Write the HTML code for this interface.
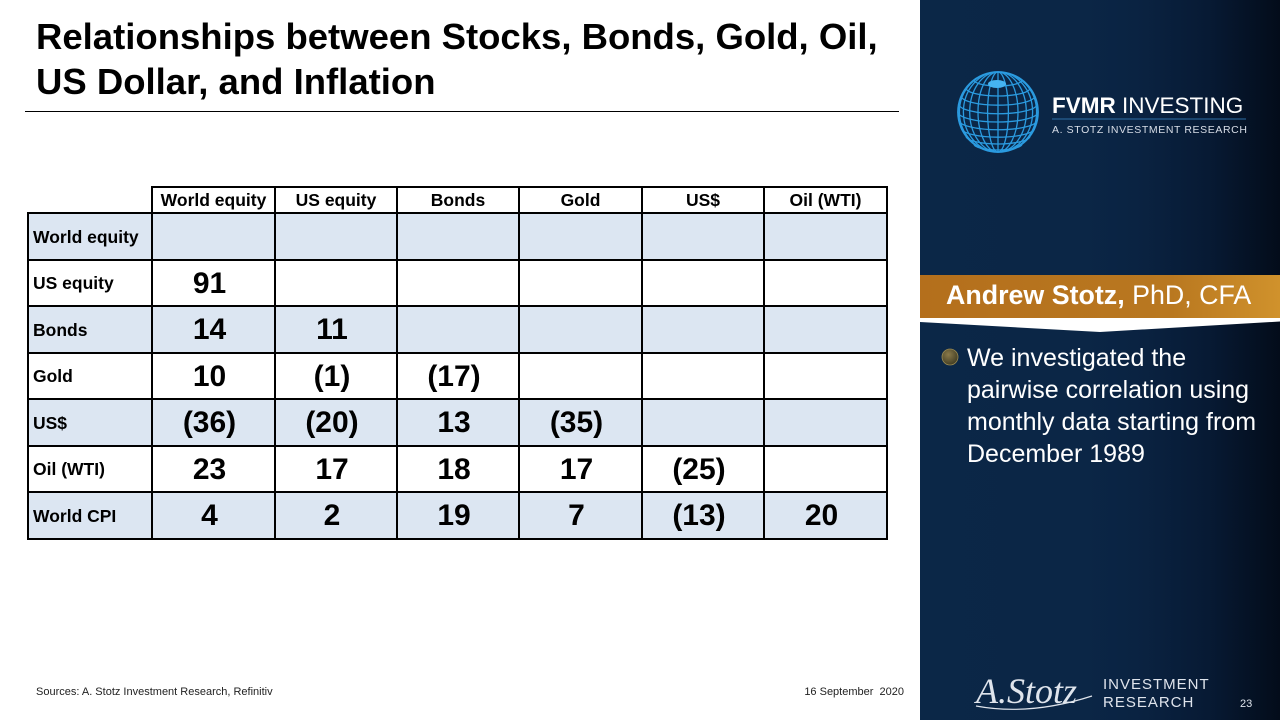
<!DOCTYPE html>
<html>
<head>
<meta charset="utf-8">
<style>
  html,body{margin:0;padding:0;}
  body{width:1280px;height:720px;position:relative;overflow:hidden;background:#fff;font-family:"Liberation Sans",Arial,sans-serif;}
  .abs{position:absolute;}
  .title{left:36px;top:14px;font-size:36.5px;font-weight:bold;line-height:45px;color:#000;white-space:nowrap;}
  .rule{left:25px;top:111px;width:874px;height:1px;background:#000;}
  .hl{position:absolute;height:2px;background:#000;}
  .vl{position:absolute;width:2px;background:#000;}
  .band{position:absolute;left:28px;width:860px;background:#dce6f2;}
  .cell{position:absolute;display:flex;align-items:center;justify-content:center;font-weight:bold;color:#000;white-space:nowrap;}
  .hd{font-size:17.5px;}
  .rl{font-size:17.5px;justify-content:flex-start;padding-left:5px;box-sizing:border-box;}
  .num{font-size:30px;}
  .panel{left:920px;top:0;width:360px;height:720px;background:linear-gradient(90deg,#0b2747 0%,#0b2646 45%,#0a2342 60%,#071a34 80%,#030c1a 100%);}
  .foot{font-size:11px;color:#222;top:686px;white-space:nowrap;}
</style>
</head>
<body>

<div class="abs title">Relationships between Stocks, Bonds, Gold, Oil,<br>US Dollar, and Inflation</div>
<div class="abs rule"></div>

<!-- table bands -->
<div class="band" style="top:213px;height:47px;"></div>
<div class="band" style="top:306px;height:47px;"></div>
<div class="band" style="top:399px;height:47px;"></div>
<div class="band" style="top:492px;height:47px;"></div>

<!-- horizontal lines -->
<div class="hl" style="left:151px;width:737px;top:186px;"></div>
<div class="hl" style="left:27px;width:861px;top:212px;"></div>
<div class="hl" style="left:27px;width:861px;top:259px;"></div>
<div class="hl" style="left:27px;width:861px;top:305px;"></div>
<div class="hl" style="left:27px;width:861px;top:352px;"></div>
<div class="hl" style="left:27px;width:861px;top:398px;"></div>
<div class="hl" style="left:27px;width:861px;top:445px;"></div>
<div class="hl" style="left:27px;width:861px;top:491px;"></div>
<div class="hl" style="left:27px;width:861px;top:538px;"></div>

<!-- vertical lines -->
<div class="vl" style="left:27px;top:212px;height:328px;"></div>
<div class="vl" style="left:151px;top:186px;height:354px;"></div>
<div class="vl" style="left:274px;top:186px;height:354px;"></div>
<div class="vl" style="left:396px;top:186px;height:354px;"></div>
<div class="vl" style="left:518px;top:186px;height:354px;"></div>
<div class="vl" style="left:641px;top:186px;height:354px;"></div>
<div class="vl" style="left:763px;top:186px;height:354px;"></div>
<div class="vl" style="left:886px;top:186px;height:354px;"></div>

<!-- header -->
<div class="cell hd" style="left:152px;width:123px;top:188px;height:25px;">World equity</div>
<div class="cell hd" style="left:275px;width:122px;top:188px;height:25px;">US equity</div>
<div class="cell hd" style="left:397px;width:122px;top:188px;height:25px;">Bonds</div>
<div class="cell hd" style="left:519px;width:123px;top:188px;height:25px;">Gold</div>
<div class="cell hd" style="left:642px;width:122px;top:188px;height:25px;">US$</div>
<div class="cell hd" style="left:764px;width:123px;top:188px;height:25px;">Oil (WTI)</div>

<!-- row labels -->
<div class="cell rl" style="left:28px;width:124px;top:214px;height:46px;">World equity</div>
<div class="cell rl" style="left:28px;width:124px;top:261px;height:45px;">US equity</div>
<div class="cell rl" style="left:28px;width:124px;top:307px;height:46px;">Bonds</div>
<div class="cell rl" style="left:28px;width:124px;top:354px;height:45px;">Gold</div>
<div class="cell rl" style="left:28px;width:124px;top:400px;height:46px;">US$</div>
<div class="cell rl" style="left:28px;width:124px;top:447px;height:45px;">Oil (WTI)</div>
<div class="cell rl" style="left:28px;width:124px;top:493px;height:46px;">World CPI</div>

<!-- numbers -->
<div class="cell num" style="left:148px;width:123px;top:261px;height:45px;">91</div>
<div class="cell num" style="left:148px;width:123px;top:307px;height:46px;">14</div>
<div class="cell num" style="left:271px;width:122px;top:307px;height:46px;">11</div>
<div class="cell num" style="left:148px;width:123px;top:354px;height:45px;">10</div>
<div class="cell num" style="left:271px;width:122px;top:354px;height:45px;">(1)</div>
<div class="cell num" style="left:393px;width:122px;top:354px;height:45px;">(17)</div>
<div class="cell num" style="left:148px;width:123px;top:400px;height:46px;">(36)</div>
<div class="cell num" style="left:271px;width:122px;top:400px;height:46px;">(20)</div>
<div class="cell num" style="left:393px;width:122px;top:400px;height:46px;">13</div>
<div class="cell num" style="left:515px;width:123px;top:400px;height:46px;">(35)</div>
<div class="cell num" style="left:148px;width:123px;top:447px;height:45px;">23</div>
<div class="cell num" style="left:271px;width:122px;top:447px;height:45px;">17</div>
<div class="cell num" style="left:393px;width:122px;top:447px;height:45px;">18</div>
<div class="cell num" style="left:515px;width:123px;top:447px;height:45px;">17</div>
<div class="cell num" style="left:638px;width:122px;top:447px;height:45px;">(25)</div>
<div class="cell num" style="left:148px;width:123px;top:493px;height:46px;">4</div>
<div class="cell num" style="left:271px;width:122px;top:493px;height:46px;">2</div>
<div class="cell num" style="left:393px;width:122px;top:493px;height:46px;">19</div>
<div class="cell num" style="left:515px;width:123px;top:493px;height:46px;">7</div>
<div class="cell num" style="left:638px;width:122px;top:493px;height:46px;">(13)</div>
<div class="cell num" style="left:760px;width:123px;top:493px;height:46px;">20</div>

<!-- footer -->
<div class="abs foot" style="left:36px;">Sources: A. Stotz Investment Research, Refinitiv</div>
<div class="abs foot" style="left:795px;width:109px;text-align:right;">16 September&nbsp; 2020</div>

<!-- right panel -->
<div class="abs panel"></div>

<svg class="abs" style="left:0;top:0;" width="1280" height="720" viewBox="0 0 1280 720">
  <g fill="none" stroke="#2b9be0" stroke-width="1.3">
    <circle cx="998" cy="112" r="40" stroke-width="1.8"/>
    <ellipse cx="998" cy="112" rx="10.4" ry="40"/>
    <ellipse cx="998" cy="112" rx="20" ry="40"/>
    <ellipse cx="998" cy="112" rx="28.3" ry="40"/>
    <ellipse cx="998" cy="112" rx="34.6" ry="40"/>
    <ellipse cx="998" cy="112" rx="38.6" ry="40"/>
    <line x1="998" y1="72" x2="998" y2="152"/>
    <path d="M974 80 A24 6 0 0 0 1022 80"/>
    <path d="M966 88 A32 8 0 0 0 1030 88"/>
    <path d="M961.3 96 A36.7 9.2 0 0 0 1034.7 96"/>
    <path d="M958.8 104 A39.2 9.8 0 0 0 1037.2 104"/>
    <path d="M958 112 A40 10 0 0 0 1038 112"/>
    <path d="M958.8 120 A39.2 9.8 0 0 0 1037.2 120"/>
    <path d="M961.3 128 A36.7 9.2 0 0 0 1034.7 128"/>
    <path d="M966 136 A32 8 0 0 0 1030 136"/>
    <path d="M974 144 A24 6 0 0 0 1022 144"/>
  </g>
  <ellipse cx="997" cy="84" rx="9" ry="4" fill="#45b4f2"/>

  <text x="1052" y="113" font-family="Liberation Sans, Arial, sans-serif" font-size="22.5" fill="#ffffff"><tspan font-weight="bold">FVMR</tspan> INVESTING</text>
  <rect x="1052" y="118.5" width="194" height="1" fill="#2d6ea6"/>
  <text x="1052" y="133" font-family="Liberation Sans, Arial, sans-serif" font-size="10.5" letter-spacing="0.6" fill="#d8dee8">A. STOTZ INVESTMENT RESEARCH</text>

  <defs>
    <linearGradient id="gold" x1="0" y1="0" x2="1" y2="0">
      <stop offset="0" stop-color="#b46f1c"/>
      <stop offset="0.7" stop-color="#b97820"/>
      <stop offset="1" stop-color="#d0922c"/>
    </linearGradient>
    <radialGradient id="bul" cx="0.4" cy="0.35" r="0.7">
      <stop offset="0" stop-color="#8a7a4a"/>
      <stop offset="1" stop-color="#3e3a22"/>
    </radialGradient>
  </defs>
  <rect x="920" y="275" width="360" height="43.5" fill="url(#gold)"/>
  <polygon points="920,318 1280,318 1280,321.5 1100,332 920,322" fill="#ffffff"/>
  <text x="946" y="304" font-family="Liberation Sans, Arial, sans-serif" font-size="26.8" fill="#ffffff"><tspan font-weight="bold">Andrew Stotz,</tspan> PhD, CFA</text>

  <circle cx="950" cy="357" r="8" fill="url(#bul)" stroke="#9a8a52" stroke-width="0.8"/>
  <g font-family="Liberation Sans, Arial, sans-serif" font-size="25" fill="#ffffff">
    <text x="967" y="366">We investigated the</text>
    <text x="967" y="398">pairwise correlation using</text>
    <text x="967" y="430">monthly data starting from</text>
    <text x="967" y="462">December 1989</text>
  </g>

  <text x="976" y="703" font-family="Liberation Serif, serif" font-style="italic" font-size="36" fill="#dfe4ec">A.Stotz</text>
  <path d="M976 706 Q1030 716 1092 696" fill="none" stroke="#dfe4ec" stroke-width="1.2"/>
  <text x="1103" y="689" font-family="Liberation Sans, Arial, sans-serif" font-size="15" letter-spacing="1" fill="#dfe4ec">INVESTMENT</text>
  <text x="1103" y="707" font-family="Liberation Sans, Arial, sans-serif" font-size="15" letter-spacing="1" fill="#dfe4ec">RESEARCH</text>
  <text x="1240" y="707" font-family="Liberation Sans, Arial, sans-serif" font-size="11" fill="#dfe4ec">23</text>
</svg>

</body>
</html>
